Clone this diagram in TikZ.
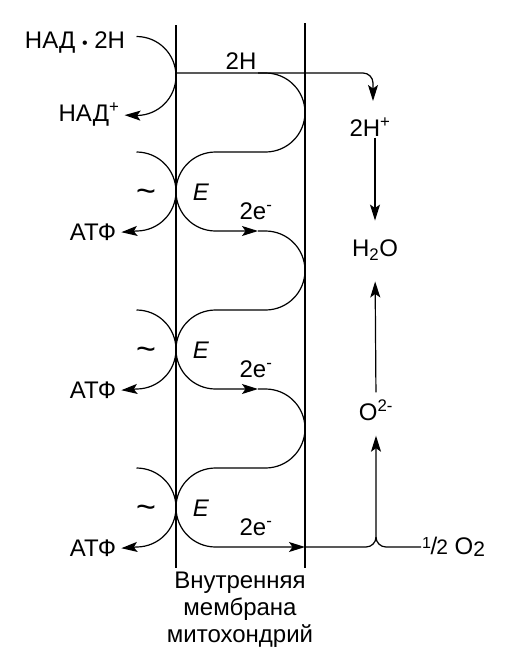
\documentclass[tikz,border=0pt]{standalone}
\usepackage{fontspec}
\setmainfont{Liberation Sans}
\usetikzlibrary{arrows.meta}

\begin{document}
\begin{tikzpicture}[x=1pt,y=-1pt,>={Stealth[length=16pt,width=10pt,inset=3.5pt]},
    font=\fontsize{24}{27}\selectfont]
    \tikzset{
        membrane/.style={line width=2.4pt},
        flow/.style={line width=1.2pt},
        lbl/.style={inner sep=1pt}
    }
    \useasboundingbox (0,0) rectangle (510,665);
    % membrane walls
    \draw[membrane] (176,25) -- (176,568);
    \draw[membrane] (305,23) -- (305,568);
    % NADH
    \node[lbl] (nadh) at (75,43) {НАД {\fontsize{16}{16}\selectfont\textbullet} 2Н};
    \node[lbl] (nadp) at (89,115) {НАД\textsuperscript{+}};
    \draw[flow,->,shorten >=4pt] (136.5,36.5) arc[start angle=-90,end angle=90,radius=39.5] -- (nadp.east);
    % hydrogen side
    \node[lbl] (htwo) at (241,61) {2H};
    \node[lbl] (hplus) at (370,127) {2H\textsuperscript{+}};
    \node[lbl] (water) at (375,250) {H\textsubscript{2}O};
    \node[lbl] (oxy) at (376,410) {O\textsuperscript{2-}};
    \draw[flow,->,rounded corners=10pt] (176,73) -- (373,73) -- (373,101);
    \draw[flow,->,shorten >=18pt] (water.north |- hplus.south) -- (water.north);
    \draw[flow,->,shorten >=20pt,shorten <=6pt] (oxy.north) -- (water.south);
    % E / ATP steps
    \foreach \i/\ty/\xend in {1/191.5/258, 2/349.5/258, 3/507.5/305} {
        \node[lbl] (atp\i) at (93,\ty+41) {АТФ};
        \node[lbl] (tilde\i) at (146,\ty+4) {\fontsize{34}{34}\selectfont\textasciitilde};
        \node[lbl] (enz\i) at (201,\ty+1) {\textit{E}};
        \node[lbl] (elec\i) at (256,\ty+20) {2e\textsuperscript{-}};
        \draw[flow,->,shorten >=4pt] (136.5,\ty-39.5) arc[start angle=-90,end angle=90,radius=39.5] -- (atp\i.east);
        \draw[flow,->] (258,\ty-118.5) -- (265.5,\ty-118.5) arc[start angle=-90,end angle=90,radius=39.5]
            -- (215.5,\ty-39.5) arc[start angle=270,end angle=90,radius=39.5] -- (\xend,\ty+39.5);
    }
    % oxygen
    \node[lbl,anchor=west] (halfo) at (421,547) {\raisebox{0.45ex}{\fontsize{16}{16}\selectfont 1}\kern-0.5pt/\kern-1pt{\fontsize{21}{21}\selectfont 2}~O{\fontsize{21}{21}\selectfont\raisebox{-0.2ex}{2}}};
    \draw[flow,->,shorten >=14pt] (305,547) -- (366,547) arc[start angle=90,end angle=0,radius=10] -- (oxy.south);
    \draw[flow] (halfo.west) -- (386,547) arc[start angle=90,end angle=180,radius=10];
    % label
    \node[lbl,align=center] (memb) at (240,610) {Внутренняя\\мембрана\\митохондрий};
\end{tikzpicture}
\end{document}
